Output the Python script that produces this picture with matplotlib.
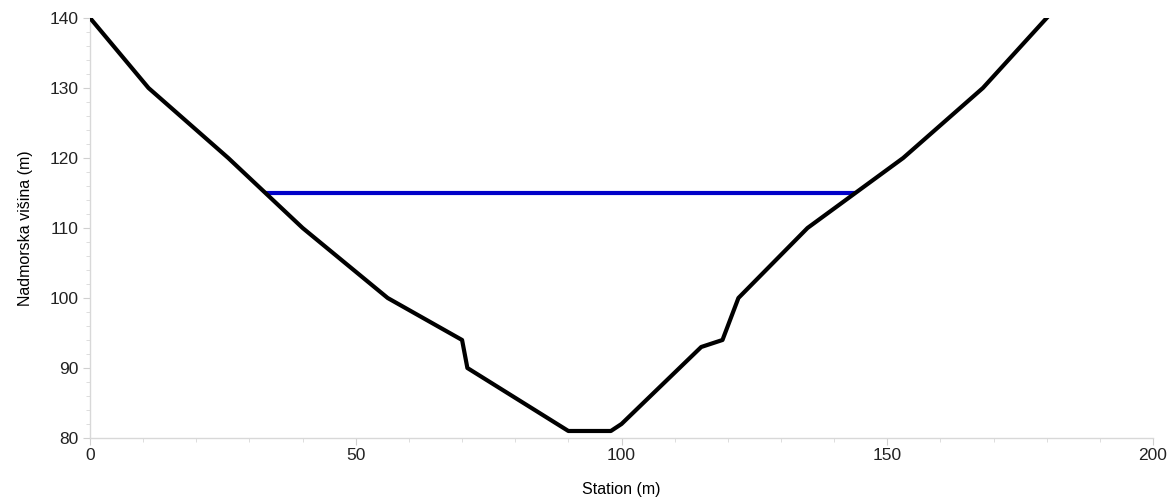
import matplotlib
matplotlib.use('Agg')
import matplotlib.pyplot as plt
from matplotlib.ticker import MultipleLocator

plt.rcParams['font.family'] = ['Liberation Sans', 'DejaVu Sans']

# Cross-section profile
station = [0, 11, 26, 40, 56, 70, 71, 90, 98, 100, 115, 119, 122, 135, 153, 168, 180]
elevation = [140, 130, 120, 110, 100, 94, 90, 81, 81, 82, 93, 94, 100, 110, 120, 130, 140]

# Water surface
ws_station = [33, 144]
ws_elev = [115, 115]

fig = plt.figure(figsize=(11.71, 4.98), dpi=100)
ax = fig.add_axes([0.0769, 0.1205, 0.9077, 0.8434])

ax.plot(ws_station, ws_elev, color='#0000c8', lw=3, solid_capstyle='butt', zorder=2)
ax.plot(station, elevation, color='black', lw=3, solid_joinstyle='round', zorder=3)

ax.set_xlim(0, 200)
ax.set_ylim(80, 140)
ax.xaxis.set_major_locator(MultipleLocator(50))
ax.xaxis.set_minor_locator(MultipleLocator(10))
ax.yaxis.set_major_locator(MultipleLocator(10))
ax.yaxis.set_minor_locator(MultipleLocator(2))

for s in ['top', 'right']:
    ax.spines[s].set_visible(False)
for s in ['left', 'bottom']:
    ax.spines[s].set_color('#d8d8d8')
    ax.spines[s].set_linewidth(1)

ax.tick_params(which='major', length=5, labelsize=12.5, colors='#222222')
ax.tick_params(which='major', color='#d0d0d0')
ax.tick_params(which='minor', color='#d8d8d8', length=3)
ax.tick_params(axis='x', which='major', pad=2)

ax.set_xlabel('Station (m)', fontsize=11.5, labelpad=14)
ax.set_ylabel('Nadmorska višina (m)', fontsize=11.5, labelpad=12)

fig.savefig('out.png', dpi=100)
